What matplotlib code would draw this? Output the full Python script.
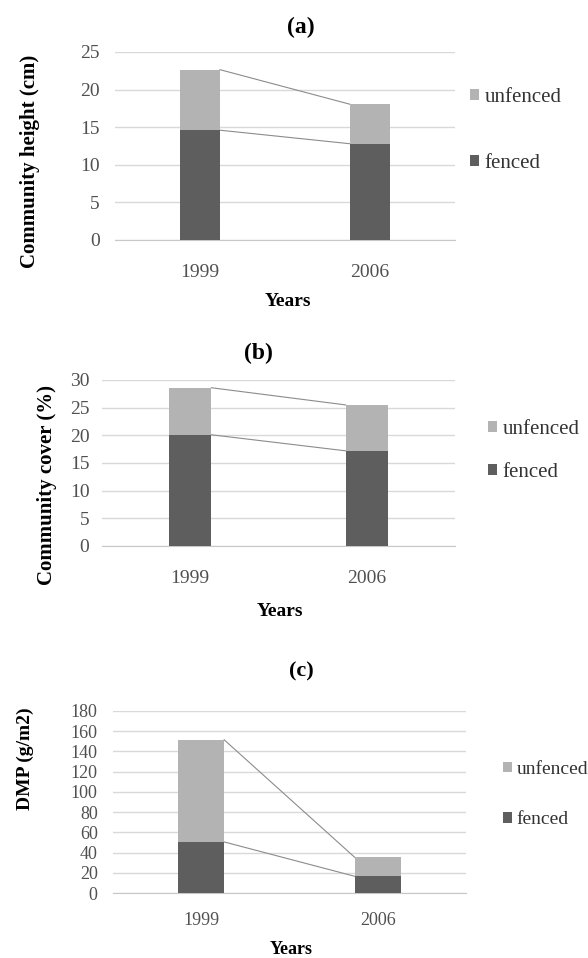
import numpy as np
import matplotlib.pyplot as plt

# values
years = ['1999', '2006']
height_fenced = [14.6, 12.8]
height_unfenced = [8.05, 5.25]
cover_fenced = [20.1, 17.2]
cover_unfenced = [8.5, 8.3]
dmp_fenced = [50.5, 16.5]
dmp_unfenced = [101, 18.7]

plt.rcParams['font.family'] = 'Liberation Serif'

W, H = 588, 958
FENCED = '#5e5e5e'
UNFENCED = '#b3b3b3'
GRID = '#d9d9d9'
TXT = '#505050'

fig = plt.figure(figsize=(W / 100, H / 100), dpi=100)


def fx(px):
    return px / W


def fy(py):
    return 1 - py / H


def panel(box, fenced, unfenced, ymax, ystep, title, title_xy, ylabel, ylabel_xy,
          xlabel_xy, leg_xy, leg_space, fs=14, width=0.24, xpad=17, ypad=11):
    """draws one stacked column panel, box given as pixels (left, top, right, bottom)"""
    l, t, r, b = box
    ax = fig.add_axes([fx(l), fy(b), fx(r - l), (b - t) / H])
    x = np.arange(len(years))
    top = np.array(fenced) + np.array(unfenced)
    ax.bar(x, fenced, width, color=FENCED, label='fenced', zorder=3)
    ax.bar(x, unfenced, width, bottom=fenced, color=UNFENCED, label='unfenced', zorder=3)
    # excel style series lines between the bar tops
    ax.plot([x[0] + width / 2, x[1] - width / 2], [fenced[0], fenced[1]],
            color='#8c8c8c', lw=0.8, zorder=2)
    ax.plot([x[0] + width / 2, x[1] - width / 2], [top[0], top[1]],
            color='#8c8c8c', lw=0.8, zorder=2)

    ax.set_xlim(-0.5, 1.5)
    ax.set_ylim(0, ymax)
    ax.set_yticks(np.arange(0, ymax + ystep / 2, ystep))
    ax.set_xticks(x)
    ax.set_xticklabels(years)
    ax.yaxis.grid(True, color=GRID, lw=1, zorder=0)
    ax.set_axisbelow(True)
    for s in ['top', 'right', 'left']:
        ax.spines[s].set_visible(False)
    ax.spines['bottom'].set_color('#c8c8c8')
    ax.tick_params(length=0, labelsize=fs, colors=TXT)
    ax.tick_params(axis='x', pad=xpad)
    ax.tick_params(axis='y', pad=ypad)

    fig.text(fx(title_xy[0]), fy(title_xy[1]), title, ha='center', va='center',
             fontsize=fs + 3, fontweight='bold')
    ax.set_ylabel(ylabel, fontsize=fs + 1, fontweight='bold', va='center')
    ax.yaxis.set_label_coords(fx(ylabel_xy[0]), fy(ylabel_xy[1]), transform=fig.transFigure)
    ax.set_xlabel('Years', fontsize=fs, fontweight='bold', va='center')
    ax.xaxis.set_label_coords(fx(xlabel_xy[0]), fy(xlabel_xy[1]), transform=fig.transFigure)

    hd, lb = ax.get_legend_handles_labels()
    ax.legend(hd[::-1], lb[::-1], loc='center left',
              bbox_to_anchor=(fx(leg_xy[0]), fy(leg_xy[1])), bbox_transform=fig.transFigure,
              frameon=False, fontsize=fs + 1, handlelength=0.45, handleheight=0.45,
              handletextpad=0.25, borderpad=0, borderaxespad=0,
              labelspacing=leg_space, labelcolor='#333333')
    return ax


panel((115, 52, 455, 240), height_fenced, height_unfenced, 25, 5,
      '(a)', (301, 27), 'Community height (cm)', (30, 161),
      (288, 302), (470, 130.5), 2.24, width=0.235)

panel((102, 380, 455, 546), cover_fenced, cover_unfenced, 30, 5,
      '(b)', (258, 353), 'Community cover (%)', (47, 485),
      (280, 612), (488, 451), 1.13, ypad=9)

panel((113, 711, 466, 893), dmp_fenced, dmp_unfenced, 180, 20,
      '(c)', (301, 671), 'DMP (g/m2)', (25, 759),
      (291, 950), (503, 794.5), 1.72, fs=13, width=0.26, xpad=14)

fig.savefig('out.png', dpi=100)
